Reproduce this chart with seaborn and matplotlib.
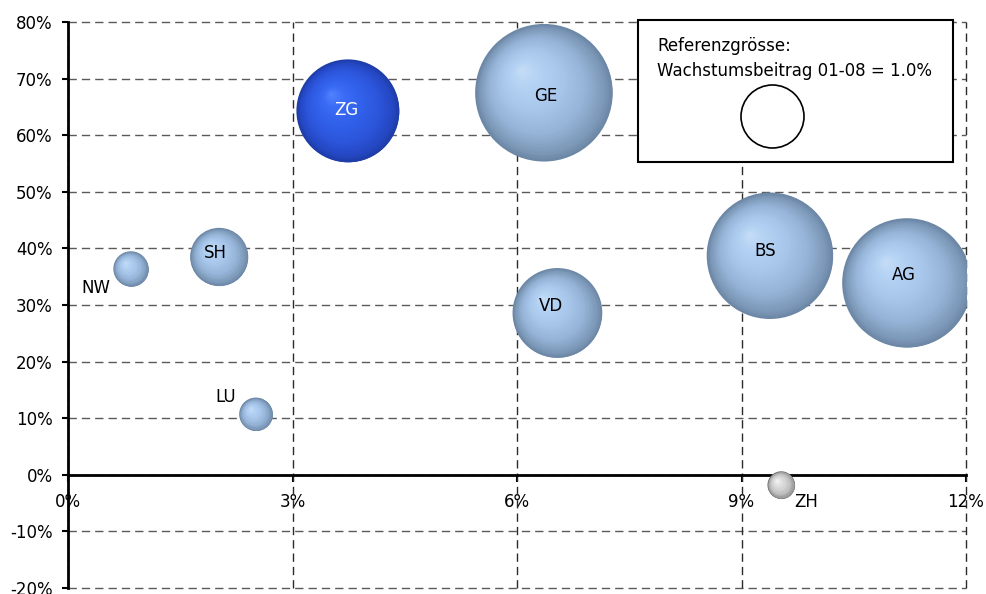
import numpy as np
import pandas as pd
import matplotlib
matplotlib.use("Agg")
import matplotlib.pyplot as plt
import seaborn as sns
from matplotlib.colors import LinearSegmentedColormap
from matplotlib.patches import Rectangle
from matplotlib.ticker import FixedLocator, FuncFormatter
from matplotlib.transforms import offset_copy

# Kantone: Wachstum (x, %), Anteil (y, %), Wachstumsbeitrag 01-08 (Blasenfläche, %)
kantone = ["NW", "SH", "LU", "ZG", "GE", "VD", "BS", "AG", "ZH"]
wachstum = [0.84, 2.02, 2.51, 3.74, 6.36, 6.54, 9.38, 11.21, 9.53]
anteil = [36.4, 38.5, 10.7, 64.3, 67.5, 28.6, 38.7, 33.9, -1.8]
beitrag = [0.31, 0.85, 0.28, 2.67, 4.77, 2.03, 4.03, 4.22, 0.19]
gruppe = ["Kanton", "Kanton", "Kanton", "ZG", "Kanton", "Kanton", "Kanton", "Kanton", "ZH"]
referenz_beitrag = 1.0
referenz_text = ["Referenzgrösse:", "Wachstumsbeitrag 01-08 = 1.0%"]

x_ticks = [0, 3, 6, 9, 12]
y_ticks = [-20, -10, 0, 10, 20, 30, 40, 50, 60, 70, 80]

df = pd.DataFrame({"kanton": kantone, "wachstum": wachstum, "anteil": anteil,
                   "beitrag": beitrag, "gruppe": gruppe})

# ---- styling ----
DPI = 100
W, H = 986, 594
PX2PT = 72.0 / DPI
REF_DIAM_PT = 63 * PX2PT           # marker diameter for a 1.0% contribution
S_UNIT = REF_DIAM_PT ** 2          # marker area (pt^2) per 1% contribution

ramp_stops = [0.0, 0.1, 0.3, 0.55, 0.8, 1.0]
ramps = {
    "Kanton": ["#6c87a5", "#7e9aba", "#96b4d7", "#a7c6ea", "#b4d2f3", "#c6ddf6"],
    "ZG": ["#1e3da8", "#2548c4", "#2c56dc", "#3161ea", "#3b6cf6", "#5383ff"],
    "ZH": ["#787878", "#a0a0a0", "#c2c2c2", "#d6d6d6", "#e6e6e6", "#f7f7f7"],
}
cmaps = {g: LinearSegmentedColormap.from_list(g, list(zip(ramp_stops, c)))
         for g, c in ramps.items()}

label_style = {  # offsets of the labels from bubble centres, pixels (x right, y up)
    "NW": (-34.5, -19.3, "black"), "SH": (-4, 4, "black"), "LU": (-29.7, 17.6, "black"),
    "ZG": (-2, 1, "white"), "GE": (2, -3, "black"), "VD": (-6, 6.6, "black"),
    "BS": (-5, 5, "black"), "AG": (-3, 8, "black"), "ZH": (24.7, -17.4, "black"),
}

sns.set_style("white")
plt.rcParams["font.family"] = ["DejaVu Sans"]
FS = 12

fig = plt.figure(figsize=(W / DPI, H / DPI), dpi=DPI)
ax = fig.add_axes([68 / W, 6 / H, 898 / W, 566 / H])
ax.set_xlim(0, 12)
ax.set_ylim(-20, 80)

# grid
for yv in y_ticks:
    ax.axhline(yv, color="#5a5a5a", lw=1.0, ls=(0, (6, 3.6)), zorder=1, clip_on=False)
for xv in x_ticks:
    ax.axvline(xv, color="#2a2a2a", lw=1.0, ls=(0, (6, 3.6)), zorder=1, clip_on=False)

# base discs through seaborn (outer rim colour)
sns.scatterplot(data=df, x="wachstum", y="anteil", hue="gruppe", size="beitrag",
                sizes=(0, 5 * S_UNIT), size_norm=(0, 5),
                palette={g: c[0] for g, c in ramps.items()},
                linewidth=0, legend=False, ax=ax, zorder=3)

# spherical shading: shrinking discs drifting toward the highlight
N = 70
for _, row in df.iterrows():
    s = row["beitrag"] * S_UNIT
    r_pt = np.sqrt(s) / 2
    cmap = cmaps[row["gruppe"]]
    for k in range(1, N):
        t = k / N
        tr = offset_copy(ax.transData, fig=fig, x=-0.34 * r_pt * t, y=0.34 * r_pt * t,
                         units="points")
        ax.scatter([row["wachstum"]], [row["anteil"]], s=s * (1 - t) ** 2,
                   color=cmap(t), linewidths=0, transform=tr, zorder=3 + k * 1e-3)

# labels
for _, row in df.iterrows():
    dx, dy, col = label_style[row["kanton"]]
    ax.annotate(row["kanton"], (row["wachstum"], row["anteil"]),
                xytext=(dx * PX2PT, dy * PX2PT), textcoords="offset points",
                ha="center", va="center", fontsize=FS, color=col, zorder=10)

# axes
for side in ["top", "right"]:
    ax.spines[side].set_visible(False)
for side in ["left", "bottom"]:
    ax.spines[side].set_linewidth(2.0)
    ax.spines[side].set_color("black")
    ax.spines[side].set_zorder(2.5)
ax.spines["bottom"].set_position(("data", 0))

ax.xaxis.set_major_locator(FixedLocator(x_ticks))
ax.yaxis.set_major_locator(FixedLocator(y_ticks))
ax.xaxis.set_major_formatter(FuncFormatter(lambda v, p: f"{v:.0f}%"))
ax.yaxis.set_major_formatter(FuncFormatter(lambda v, p: f"{v:.0f}%"))
ax.tick_params(axis="y", direction="out", length=4.5, width=1.5, pad=6.5,
               labelsize=FS, colors="black", left=True)
ax.tick_params(axis="x", direction="out", length=5, width=1.5, pad=8,
               labelsize=FS, colors="black", bottom=True)
ax.set_xlabel("")
ax.set_ylabel("")
ax.grid(False)

# reference-size box
box = Rectangle((638 / W, 1 - 162 / H), (953 - 638) / W, (162 - 20) / H,
                transform=fig.transFigure, facecolor="white", edgecolor="black",
                lw=1.5, zorder=20)
fig.patches.append(box)
fig.text(657 / W, 1 - 46 / H, referenz_text[0], ha="left", va="center",
         fontsize=FS, color="black", zorder=21)
fig.text(657 / W, 1 - 71 / H, referenz_text[1], ha="left", va="center",
         fontsize=FS, color="black", zorder=21)
fig.add_artist(plt.Line2D([772 / W], [1 - 116 / H], marker="o",
                          markersize=np.sqrt(referenz_beitrag * S_UNIT),
                          markerfacecolor="white", markeredgecolor="black",
                          markeredgewidth=1.2, transform=fig.transFigure, zorder=22))

fig.savefig("out.png", dpi=DPI)
